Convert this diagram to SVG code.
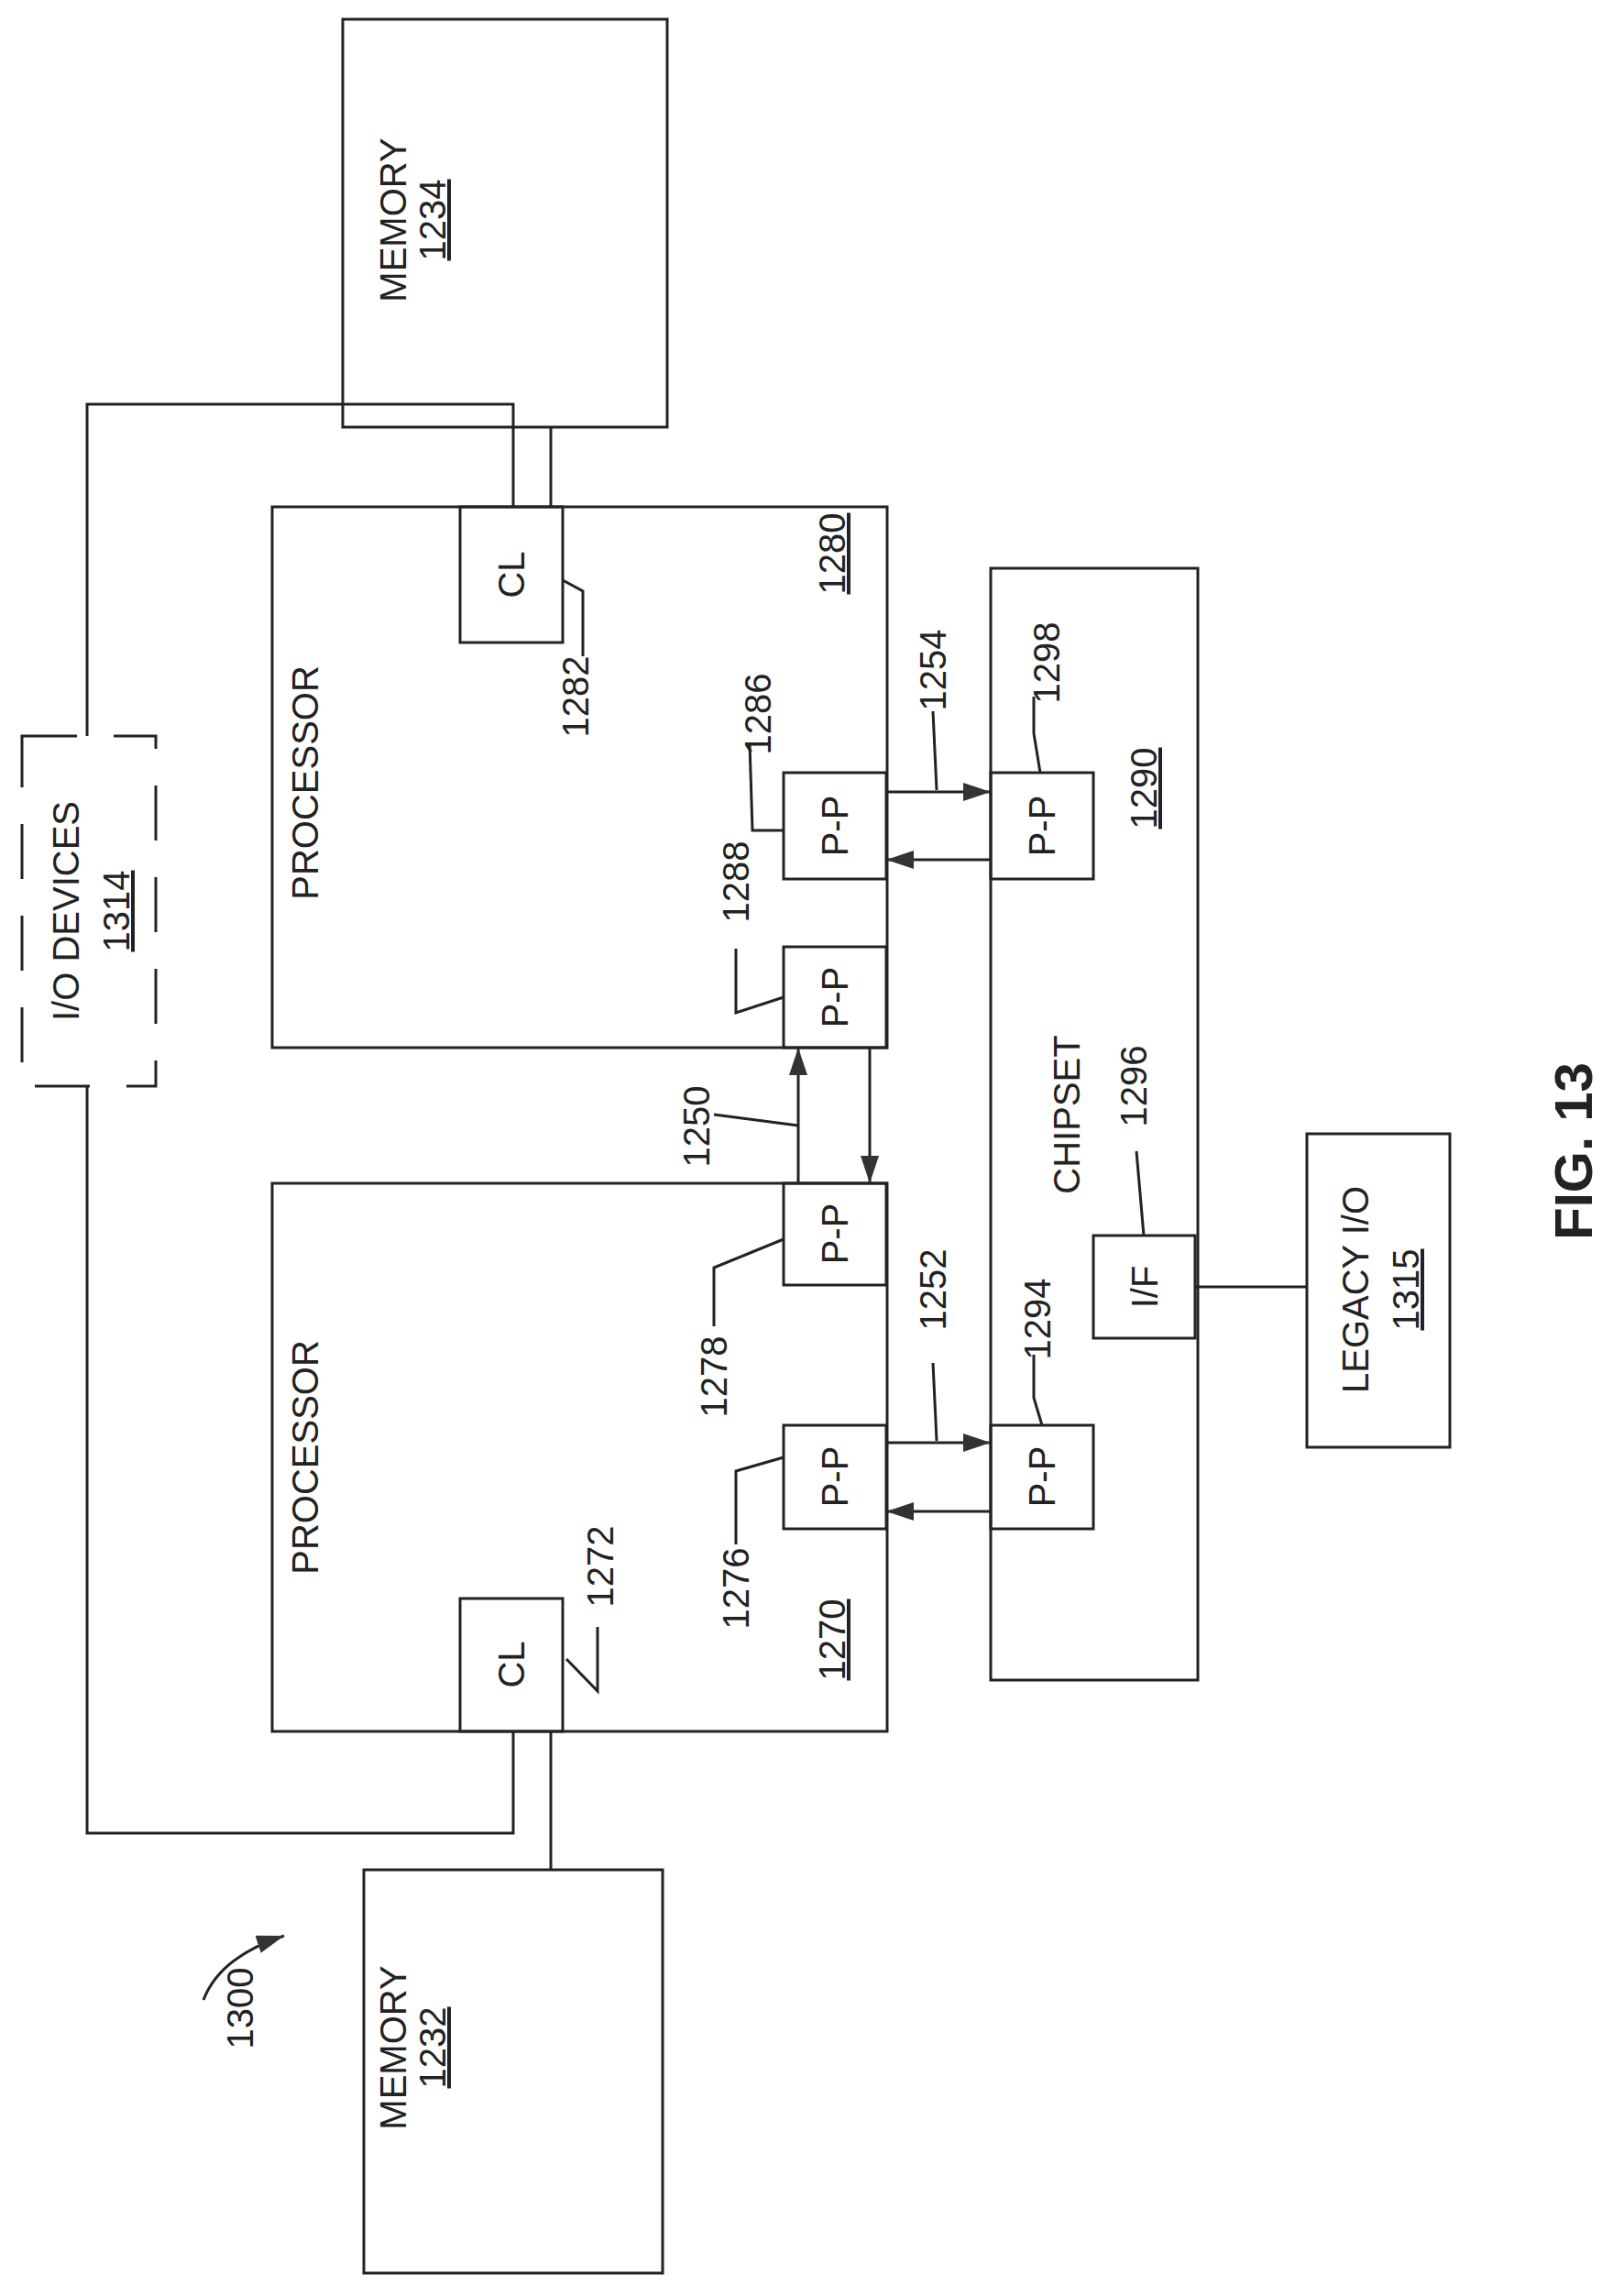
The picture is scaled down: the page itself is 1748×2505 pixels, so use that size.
<svg xmlns="http://www.w3.org/2000/svg" width="1748" height="2505" viewBox="0 0 1748 2505">
<style>
rect,path,line,polyline{fill:none;stroke:#222;stroke-width:3}
text{font-family:"Liberation Sans",Arial,sans-serif;font-size:40px;fill:#222;text-anchor:middle}
.u{text-decoration:underline}
.big{font-weight:bold;font-size:58px}
</style>
<defs>
<marker id="ah" markerWidth="10" markerHeight="8" refX="10" refY="4" orient="auto" markerUnits="userSpaceOnUse" viewBox="0 0 10 8"><path d="M0,0 L10,4 L0,8 Z" style="fill:#222;stroke:none"/></marker>
<marker id="a" viewBox="0 0 30 20" refX="30" refY="10" markerWidth="30" markerHeight="20" orient="auto" markerUnits="userSpaceOnUse"><path d="M0,0 L30,10 L0,20 Z" style="fill:#333;stroke:none"/></marker>
</defs>
<g id="mem1234"><rect x="374" y="21" width="354" height="445"/><text transform="translate(443,240) rotate(-90)">MEMORY</text><text class="u" transform="translate(486,240) rotate(-90)">1234</text></g>
<g id="proc1280"><rect x="297" y="553" width="671" height="590"/><text transform="translate(347,854) rotate(-90)">PROCESSOR</text><text class="u" transform="translate(922,604) rotate(-90)">1280</text></g>
<g id="cl1282"><rect x="502" y="553" width="112" height="148"/><text transform="translate(572,627) rotate(-90)">CL</text></g>
<g id="pp1286"><rect x="855" y="843" width="112" height="116"/><text transform="translate(925,901) rotate(-90)">P-P</text></g>
<g id="pp1288"><rect x="855" y="1033" width="112" height="110"/><text transform="translate(925,1088) rotate(-90)">P-P</text></g>
<g id="proc1270"><rect x="297" y="1291" width="671" height="598"/><text transform="translate(347,1590) rotate(-90)">PROCESSOR</text><text class="u" transform="translate(922,1789) rotate(-90)">1270</text></g>
<g id="cl1272"><rect x="502" y="1744" width="112" height="145"/><text transform="translate(572,1816) rotate(-90)">CL</text></g>
<g id="pp1278"><rect x="855" y="1291" width="112" height="111"/><text transform="translate(925,1346) rotate(-90)">P-P</text></g>
<g id="pp1276"><rect x="855" y="1555" width="112" height="113"/><text transform="translate(925,1611) rotate(-90)">P-P</text></g>
<g id="chipset1290"><rect x="1081" y="620" width="226" height="1213"/><text transform="translate(1178,1216) rotate(-90)">CHIPSET</text><text class="u" transform="translate(1262,860) rotate(-90)">1290</text></g>
<g id="pp1298"><rect x="1081" y="843" width="112" height="116"/><text transform="translate(1151,901) rotate(-90)">P-P</text></g>
<g id="pp1294"><rect x="1081" y="1555" width="112" height="113"/><text transform="translate(1151,1611) rotate(-90)">P-P</text></g>
<g id="if1296"><rect x="1193" y="1348" width="111" height="112"/><text transform="translate(1263,1404) rotate(-90)">I/F</text></g>
<g id="legacy1315"><rect x="1426" y="1237" width="156" height="342"/><text transform="translate(1493,1407) rotate(-90)">LEGACY I/O</text><text class="u" transform="translate(1548,1407) rotate(-90)">1315</text></g>
<g id="mem1232"><rect x="397" y="2040" width="326" height="440"/><text transform="translate(443,2234) rotate(-90)">MEMORY</text><text class="u" transform="translate(486,2234) rotate(-90)">1232</text></g>
<g id="io1314"><rect x="24" y="803" width="146" height="382" style="stroke-dasharray:60,40"/><text transform="translate(86,994) rotate(-90)">I/O DEVICES</text><text class="u" transform="translate(141,994) rotate(-90)">1314</text></g>
<g id="connectors">
<polyline points="560,553 560,441 95,441 95,803"/>
<line x1="601" y1="466" x2="601" y2="553"/>
<polyline points="95,1185 95,2000 560,2000 560,1889"/>
<line x1="601" y1="1889" x2="601" y2="2040"/>
<line x1="967" y1="864" x2="1081" y2="864" marker-end="url(#a)"/>
<line x1="1081" y1="938" x2="967" y2="938" marker-end="url(#a)"/>
<line x1="967" y1="1574" x2="1081" y2="1574" marker-end="url(#a)"/>
<line x1="1081" y1="1649" x2="967" y2="1649" marker-end="url(#a)"/>
<line x1="871" y1="1291" x2="871" y2="1143" marker-end="url(#a)"/>
<line x1="949" y1="1143" x2="949" y2="1291" marker-end="url(#a)"/>
<line x1="1304" y1="1404" x2="1426" y2="1404"/>
<polyline points="614,633 636,645 636,716"/>
<polyline points="818,811 821,906 855,906"/>
<line x1="1018" y1="776" x2="1022" y2="862"/>
<polyline points="1128,760 1128,800 1135,843"/>
<polyline points="803,1035 803,1105 855,1088"/>
<line x1="779" y1="1216" x2="871" y2="1228"/>
<polyline points="779,1447 779,1383 855,1352"/>
<line x1="1018" y1="1487" x2="1022" y2="1572"/>
<polyline points="1128,1478 1128,1525 1137,1555"/>
<line x1="1240" y1="1256" x2="1248" y2="1348"/>
<polyline points="803,1685 803,1605 855,1590"/>
<polyline points="652,1775 652,1845 618,1810"/>
<path d="M222,2182 Q240,2135 310,2112" marker-end="url(#a)"/>
</g>
<g id="labels">
<text transform="translate(642,760) rotate(-90)">1282</text>
<text transform="translate(841,779) rotate(-90)">1286</text>
<text transform="translate(1032,731) rotate(-90)">1254</text>
<text transform="translate(1156,723) rotate(-90)">1298</text>
<text transform="translate(817,962) rotate(-90)">1288</text>
<text transform="translate(774,1229) rotate(-90)">1250</text>
<text transform="translate(793,1502) rotate(-90)">1278</text>
<text transform="translate(1032,1407) rotate(-90)">1252</text>
<text transform="translate(1146,1439) rotate(-90)">1294</text>
<text transform="translate(1251,1185) rotate(-90)">1296</text>
<text transform="translate(817,1733) rotate(-90)">1276</text>
<text transform="translate(669,1709) rotate(-90)">1272</text>
<text transform="translate(276,2191) rotate(-90)">1300</text>
<text class="big" transform="translate(1737,1256) rotate(-90)">FIG. 13</text>
</g>
</svg>
